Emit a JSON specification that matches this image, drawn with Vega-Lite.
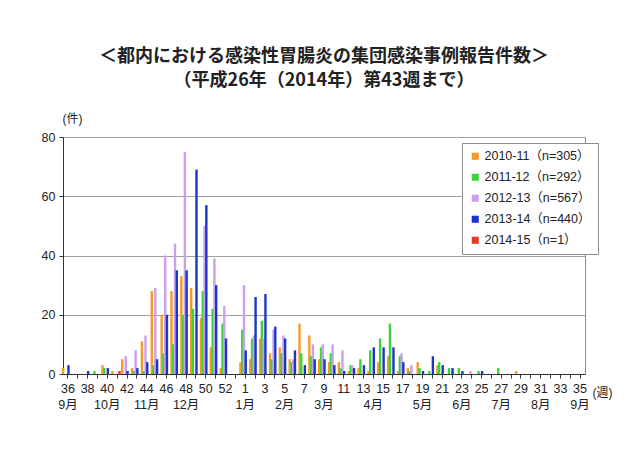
{
  "$schema": "https://vega.github.io/schema/vega-lite/v6.json",
  "autosize": {"type": "none"},
  "width": 522,
  "height": 237,
  "padding": {"left": 63, "top": 137, "right": 55, "bottom": 76},
  "background": "white",
  "config": {
    "font": "Liberation Sans, Noto Sans CJK JP",
    "view": {"stroke": "#8c8c8c", "strokeWidth": 1}
  },
  "title": {
    "text": ["＜都内における感染性胃腸炎の集団感染事例報告件数＞", "（平成26年（2014年）第43週まで）"],
    "anchor": "middle",
    "font": "Noto Sans CJK JP",
    "fontSize": 18,
    "fontWeight": "bold",
    "color": "#222222",
    "lineHeight": 24,
    "baseline": "bottom",
    "offset": 4
  },
  "data": {
    "values": [
      {"week": "36", "season": "2010-11（n=305）", "count": 2},
      {"week": "40", "season": "2010-11（n=305）", "count": 3},
      {"week": "41", "season": "2010-11（n=305）", "count": 1},
      {"week": "42", "season": "2010-11（n=305）", "count": 5},
      {"week": "43", "season": "2010-11（n=305）", "count": 2},
      {"week": "44", "season": "2010-11（n=305）", "count": 11},
      {"week": "45", "season": "2010-11（n=305）", "count": 28},
      {"week": "46", "season": "2010-11（n=305）", "count": 20},
      {"week": "47", "season": "2010-11（n=305）", "count": 28},
      {"week": "48", "season": "2010-11（n=305）", "count": 33},
      {"week": "49", "season": "2010-11（n=305）", "count": 29},
      {"week": "50", "season": "2010-11（n=305）", "count": 19},
      {"week": "51", "season": "2010-11（n=305）", "count": 9},
      {"week": "52", "season": "2010-11（n=305）", "count": 2},
      {"week": "1", "season": "2010-11（n=305）", "count": 4},
      {"week": "2", "season": "2010-11（n=305）", "count": 5},
      {"week": "3", "season": "2010-11（n=305）", "count": 12},
      {"week": "4", "season": "2010-11（n=305）", "count": 7},
      {"week": "5", "season": "2010-11（n=305）", "count": 9},
      {"week": "6", "season": "2010-11（n=305）", "count": 5},
      {"week": "7", "season": "2010-11（n=305）", "count": 17},
      {"week": "8", "season": "2010-11（n=305）", "count": 13},
      {"week": "9", "season": "2010-11（n=305）", "count": 5},
      {"week": "10", "season": "2010-11（n=305）", "count": 4},
      {"week": "11", "season": "2010-11（n=305）", "count": 4},
      {"week": "12", "season": "2010-11（n=305）", "count": 1},
      {"week": "13", "season": "2010-11（n=305）", "count": 2},
      {"week": "14", "season": "2010-11（n=305）", "count": 1},
      {"week": "15", "season": "2010-11（n=305）", "count": 4},
      {"week": "16", "season": "2010-11（n=305）", "count": 6},
      {"week": "17", "season": "2010-11（n=305）", "count": 1},
      {"week": "18", "season": "2010-11（n=305）", "count": 2},
      {"week": "19", "season": "2010-11（n=305）", "count": 4},
      {"week": "21", "season": "2010-11（n=305）", "count": 3},
      {"week": "29", "season": "2010-11（n=305）", "count": 1},

      {"week": "39", "season": "2011-12（n=292）", "count": 1},
      {"week": "40", "season": "2011-12（n=292）", "count": 2},
      {"week": "43", "season": "2011-12（n=292）", "count": 1},
      {"week": "44", "season": "2011-12（n=292）", "count": 1},
      {"week": "45", "season": "2011-12（n=292）", "count": 3},
      {"week": "46", "season": "2011-12（n=292）", "count": 7},
      {"week": "47", "season": "2011-12（n=292）", "count": 10},
      {"week": "48", "season": "2011-12（n=292）", "count": 20},
      {"week": "49", "season": "2011-12（n=292）", "count": 22},
      {"week": "50", "season": "2011-12（n=292）", "count": 28},
      {"week": "51", "season": "2011-12（n=292）", "count": 22},
      {"week": "52", "season": "2011-12（n=292）", "count": 17},
      {"week": "1", "season": "2011-12（n=292）", "count": 15},
      {"week": "2", "season": "2011-12（n=292）", "count": 12},
      {"week": "3", "season": "2011-12（n=292）", "count": 18},
      {"week": "4", "season": "2011-12（n=292）", "count": 5},
      {"week": "5", "season": "2011-12（n=292）", "count": 7},
      {"week": "6", "season": "2011-12（n=292）", "count": 4},
      {"week": "7", "season": "2011-12（n=292）", "count": 7},
      {"week": "8", "season": "2011-12（n=292）", "count": 6},
      {"week": "9", "season": "2011-12（n=292）", "count": 9},
      {"week": "10", "season": "2011-12（n=292）", "count": 7},
      {"week": "11", "season": "2011-12（n=292）", "count": 2},
      {"week": "12", "season": "2011-12（n=292）", "count": 3},
      {"week": "13", "season": "2011-12（n=292）", "count": 5},
      {"week": "14", "season": "2011-12（n=292）", "count": 8},
      {"week": "15", "season": "2011-12（n=292）", "count": 12},
      {"week": "16", "season": "2011-12（n=292）", "count": 17},
      {"week": "17", "season": "2011-12（n=292）", "count": 6},
      {"week": "18", "season": "2011-12（n=292）", "count": 1},
      {"week": "19", "season": "2011-12（n=292）", "count": 2},
      {"week": "20", "season": "2011-12（n=292）", "count": 1},
      {"week": "21", "season": "2011-12（n=292）", "count": 4},
      {"week": "22", "season": "2011-12（n=292）", "count": 2},
      {"week": "23", "season": "2011-12（n=292）", "count": 2},
      {"week": "25", "season": "2011-12（n=292）", "count": 1},
      {"week": "27", "season": "2011-12（n=292）", "count": 2},

      {"week": "42", "season": "2012-13（n=567）", "count": 6},
      {"week": "43", "season": "2012-13（n=567）", "count": 8},
      {"week": "44", "season": "2012-13（n=567）", "count": 13},
      {"week": "45", "season": "2012-13（n=567）", "count": 29},
      {"week": "46", "season": "2012-13（n=567）", "count": 40},
      {"week": "47", "season": "2012-13（n=567）", "count": 44},
      {"week": "48", "season": "2012-13（n=567）", "count": 75},
      {"week": "50", "season": "2012-13（n=567）", "count": 50},
      {"week": "51", "season": "2012-13（n=567）", "count": 39},
      {"week": "52", "season": "2012-13（n=567）", "count": 23},
      {"week": "1", "season": "2012-13（n=567）", "count": 30},
      {"week": "2", "season": "2012-13（n=567）", "count": 13},
      {"week": "3", "season": "2012-13（n=567）", "count": 12},
      {"week": "4", "season": "2012-13（n=567）", "count": 15},
      {"week": "5", "season": "2012-13（n=567）", "count": 13},
      {"week": "6", "season": "2012-13（n=567）", "count": 5},
      {"week": "8", "season": "2012-13（n=567）", "count": 10},
      {"week": "9", "season": "2012-13（n=567）", "count": 10},
      {"week": "10", "season": "2012-13（n=567）", "count": 10},
      {"week": "11", "season": "2012-13（n=567）", "count": 8},
      {"week": "12", "season": "2012-13（n=567）", "count": 3},
      {"week": "17", "season": "2012-13（n=567）", "count": 7},
      {"week": "18", "season": "2012-13（n=567）", "count": 3},
      {"week": "24", "season": "2012-13（n=567）", "count": 1},

      {"week": "36", "season": "2013-14（n=440）", "count": 3},
      {"week": "38", "season": "2013-14（n=440）", "count": 1},
      {"week": "40", "season": "2013-14（n=440）", "count": 2},
      {"week": "42", "season": "2013-14（n=440）", "count": 1},
      {"week": "43", "season": "2013-14（n=440）", "count": 2},
      {"week": "44", "season": "2013-14（n=440）", "count": 4},
      {"week": "45", "season": "2013-14（n=440）", "count": 5},
      {"week": "46", "season": "2013-14（n=440）", "count": 20},
      {"week": "47", "season": "2013-14（n=440）", "count": 35},
      {"week": "48", "season": "2013-14（n=440）", "count": 35},
      {"week": "49", "season": "2013-14（n=440）", "count": 69},
      {"week": "50", "season": "2013-14（n=440）", "count": 57},
      {"week": "51", "season": "2013-14（n=440）", "count": 30},
      {"week": "52", "season": "2013-14（n=440）", "count": 12},
      {"week": "1", "season": "2013-14（n=440）", "count": 8},
      {"week": "2", "season": "2013-14（n=440）", "count": 26},
      {"week": "3", "season": "2013-14（n=440）", "count": 27},
      {"week": "4", "season": "2013-14（n=440）", "count": 16},
      {"week": "5", "season": "2013-14（n=440）", "count": 12},
      {"week": "6", "season": "2013-14（n=440）", "count": 8},
      {"week": "7", "season": "2013-14（n=440）", "count": 3},
      {"week": "8", "season": "2013-14（n=440）", "count": 5},
      {"week": "9", "season": "2013-14（n=440）", "count": 5},
      {"week": "10", "season": "2013-14（n=440）", "count": 3},
      {"week": "11", "season": "2013-14（n=440）", "count": 1},
      {"week": "12", "season": "2013-14（n=440）", "count": 2},
      {"week": "13", "season": "2013-14（n=440）", "count": 3},
      {"week": "14", "season": "2013-14（n=440）", "count": 9},
      {"week": "15", "season": "2013-14（n=440）", "count": 9},
      {"week": "16", "season": "2013-14（n=440）", "count": 9},
      {"week": "17", "season": "2013-14（n=440）", "count": 4},
      {"week": "19", "season": "2013-14（n=440）", "count": 1},
      {"week": "20", "season": "2013-14（n=440）", "count": 6},
      {"week": "21", "season": "2013-14（n=440）", "count": 3},
      {"week": "22", "season": "2013-14（n=440）", "count": 2},
      {"week": "23", "season": "2013-14（n=440）", "count": 1},
      {"week": "25", "season": "2013-14（n=440）", "count": 1},

      {"week": "41", "season": "2014-15（n=1）", "count": 1}
    ]
  },
  "mark": {"type": "bar", "width": {"band": 1.35}},
  "encoding": {
    "x": {
      "field": "week",
      "type": "nominal",
      "sort": null,
      "scale": {
        "domain": ["36","37","38","39","40","41","42","43","44","45","46","47","48","49","50","51","52","53","1","2","3","4","5","6","7","8","9","10","11","12","13","14","15","16","17","18","19","20","21","22","23","24","25","26","27","28","29","30","31","32","33","34","35"],
        "paddingInner": 0.1,
        "paddingOuter": 0.05
      },
      "axis": {
        "title": "(週)",
        "titleFontSize": 12,
        "titleFontWeight": "normal",
        "titleColor": "#222222",
        "titleX": 539,
        "titleY": 18,
        "titleAlign": "center",
        "titleBaseline": "middle",
        "labelAngle": 0,
        "labelOverlap": false,
        "labelBound": false,
        "labelFontSize": 12.5,
        "labelColor": "#222222",
        "labelLineHeight": 16,
        "labelPadding": 4,
        "labelBaseline": "top",
        "tickColor": "#333333",
        "tickSize": 4,
        "domainColor": "#333333",
        "labelExpr": "[indexof(['36','38','40','42','44','46','48','50','52','1','3','5','7','9','11','13','15','17','19','21','23','25','27','29','31','33','35'], datum.value) >= 0 ? datum.value : '', datum.value == '36' ? '9月' : datum.value == '40' ? '10月' : datum.value == '44' ? '11月' : datum.value == '48' ? '12月' : datum.value == '1' ? '1月' : datum.value == '5' ? '2月' : datum.value == '9' ? '3月' : datum.value == '14' ? '4月' : datum.value == '19' ? '5月' : datum.value == '23' ? '6月' : datum.value == '27' ? '7月' : datum.value == '31' ? '8月' : datum.value == '35' ? '9月' : '']"
      }
    },
    "xOffset": {
      "field": "season",
      "type": "nominal",
      "scale": {"domain": ["2010-11（n=305）", "2011-12（n=292）", "2012-13（n=567）", "2013-14（n=440）", "2014-15（n=1）"], "paddingInner": 0}
    },
    "y": {
      "field": "count",
      "type": "quantitative",
      "scale": {"domain": [0, 80]},
      "axis": {
        "values": [0, 20, 40, 60, 80],
        "title": "(件)",
        "titleAngle": 0,
        "titleFontSize": 12,
        "titleFontWeight": "normal",
        "titleColor": "#222222",
        "titleX": 9,
        "titleY": -19,
        "titleAlign": "center",
        "titleBaseline": "middle",
        "labelFontSize": 12.5,
        "labelColor": "#222222",
        "labelPadding": 4,
        "tickSize": 4,
        "tickColor": "#333333",
        "domainColor": "#333333",
        "gridColor": "#a0a0a0",
        "gridWidth": 1
      }
    },
    "color": {
      "field": "season",
      "type": "nominal",
      "scale": {
        "domain": ["2010-11（n=305）", "2011-12（n=292）", "2012-13（n=567）", "2013-14（n=440）", "2014-15（n=1）"],
        "range": ["#F39A28", "#3CD23C", "#C8A0F0", "#1B35C8", "#E83A1E"]
      },
      "legend": {
        "title": null,
        "orient": "none",
        "legendX": 399,
        "legendY": 6,
        "direction": "vertical",
        "strokeColor": "#8c8c8c",
        "fillColor": "white",
        "padding": 7,
        "symbolType": "square",
        "symbolSize": 50,
        "symbolStrokeWidth": 0,
        "labelFontSize": 12.5,
        "labelColor": "#222222",
        "labelOffset": 3,
        "rowPadding": 8
      }
    }
  }
}
